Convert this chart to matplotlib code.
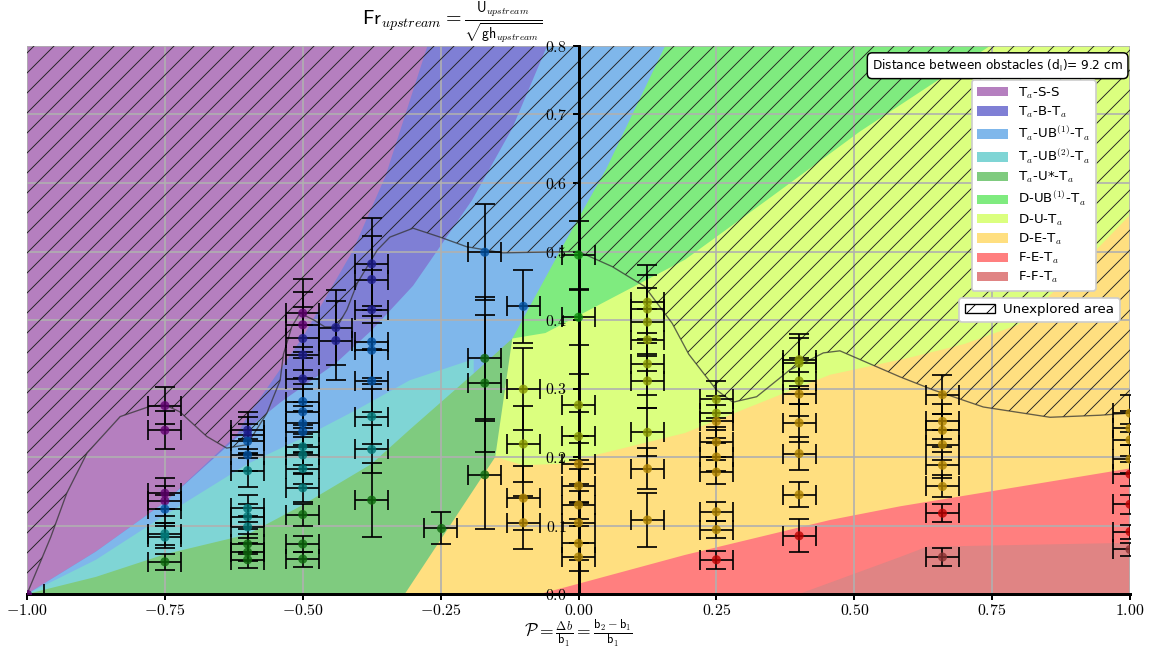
import numpy as np
import matplotlib.pyplot as plt
from matplotlib.patches import Patch
from matplotlib.ticker import FuncFormatter

plt.rcParams['mathtext.fontset'] = 'cm'
plt.rcParams['font.family'] = ['DejaVu Sans']
plt.rcParams['hatch.linewidth'] = 0.55
plt.rcParams['hatch.color'] = '#222222'

# ----------------------------
# flow regimes
# ----------------------------
regimes = ['T$_a$-S-S', 'T$_a$-B-T$_a$', 'T$_a$-UB$^{(1)}$-T$_a$', 'T$_a$-UB$^{(2)}$-T$_a$',
           'T$_a$-U*-T$_a$', 'D-UB$^{(1)}$-T$_a$', 'D-U-T$_a$', 'D-E-T$_a$', 'F-E-T$_a$', 'F-F-T$_a$']
fill_colors = ['#b57fbf', '#7f7fd5', '#7fb7eb', '#7fd5d5', '#7fcb7f',
               '#7feb7f', '#dbff7f', '#ffdf80', '#ff7f7f', '#e08484']
marker_colors = ['#600070', '#1c1c8c', '#0050a0', '#007878', '#0c680c',
                 '#0c900c', '#8a9a00', '#b08400', '#c00000', '#8a3030']

# ----------------------------
# regime boundaries (P, Fr): each curve leaves the previous regime on its upper-left side
# ----------------------------
b1_P = [-1.0, -0.875, -0.75, -0.62, -0.6, -0.5, -0.41, -0.35, -0.274, -0.26]
b1_Fr = [0.0, 0.062, 0.134, 0.232, 0.26, 0.375, 0.5, 0.61, 0.8, 0.83]
b2_P = [-1.0, -0.875, -0.75, -0.62, -0.54, -0.44, -0.375, -0.3, -0.193, -0.12, -0.057, -0.04]
b2_Fr = [0.0, 0.062, 0.134, 0.228, 0.28, 0.337, 0.385, 0.45, 0.575, 0.68, 0.8, 0.83]
b3_P = [-1.0, -0.875, -0.75, -0.6, -0.5, -0.4, -0.306, -0.19]
b3_Fr = [0.0, 0.05, 0.115, 0.19, 0.228, 0.27, 0.312, 0.343]
b4_P = [-1.0, -0.875, -0.75, -0.6, -0.5, -0.375, -0.306, -0.19, -0.12]
b4_Fr = [0.0, 0.025, 0.058, 0.087, 0.13, 0.19, 0.24, 0.322, 0.373]
b5_P = [-0.12, -0.034, 0.05, 0.157, 0.175]
b5_Fr = [0.373, 0.50, 0.62, 0.8, 0.83]
b6_P = [-0.151, -0.12, -0.06, 0.193, 0.35, 0.51, 0.746, 0.8]
b6_Fr = [0.2, 0.373, 0.381, 0.488, 0.58, 0.675, 0.8, 0.83]
b7_P = [-0.33, -0.315, -0.151, -0.1, -0.034, 0.193, 0.456, 0.6, 0.7, 0.797, 0.9, 1.02]
b7_Fr = [-0.02, 0.0, 0.2, 0.188, 0.19, 0.235, 0.32, 0.345, 0.365, 0.393, 0.47, 0.57]
b8_P = [-0.09, -0.07, 0.0, 0.193, 0.456, 0.583, 1.02]
b8_Fr = [-0.01, 0.0, 0.015, 0.057, 0.108, 0.128, 0.186]
b9_P = [0.38, 0.40, 0.583, 0.632, 1.02]
b9_Fr = [-0.01, 0.0, 0.054, 0.069, 0.075]

# limit of the explored area
lim_P = [-1.0, -0.957, -0.928, -0.891, -0.831, -0.777, -0.75, -0.723, -0.674, -0.638, -0.601,
         -0.565, -0.541, -0.535, -0.52, -0.505, -0.48, -0.46, -0.438, -0.42, -0.401, -0.365,
         -0.342, -0.3, -0.251, -0.203, -0.137, 0.0, 0.061, 0.12, 0.17, 0.2, 0.25, 0.28, 0.323,
         0.383, 0.444, 0.474, 0.583, 0.643, 0.734, 0.855, 0.946, 1.0]
lim_Fr = [0.0, 0.083, 0.147, 0.206, 0.259, 0.274, 0.276, 0.266, 0.23, 0.213, 0.218,
          0.264, 0.312, 0.35, 0.39, 0.41, 0.40, 0.39, 0.39, 0.415, 0.454, 0.502,
          0.521, 0.534, 0.521, 0.507, 0.498, 0.5, 0.478, 0.449, 0.395, 0.35, 0.298, 0.28, 0.288,
          0.327, 0.352, 0.355, 0.317, 0.298, 0.273, 0.258, 0.261, 0.264]

# ----------------------------
# experiments: one entry per obstacle configuration
# ----------------------------
exp_P = [-1.0, -0.75, -0.6, -0.5, -0.44, -0.375, -0.25, -0.17, -0.1, 0.0, 0.125, 0.25, 0.4, 0.66, 1.0]
exp_Fr = [
    [0.0],
    [0.275, 0.239, 0.147, 0.136, 0.124, 0.088, 0.083, 0.047],
    [0.239, 0.232, 0.223, 0.203, 0.180, 0.125, 0.113, 0.098, 0.073, 0.061, 0.050],
    [0.410, 0.393, 0.373, 0.349, 0.314, 0.281, 0.266, 0.249, 0.237, 0.215, 0.203, 0.183,
     0.155, 0.116, 0.073, 0.051],
    [0.389, 0.370],
    [0.482, 0.459, 0.415, 0.368, 0.356, 0.311, 0.259, 0.211, 0.137],
    [0.096],
    [0.499, 0.344, 0.308, 0.174],
    [0.420, 0.299, 0.219, 0.140, 0.104],
    [0.495, 0.404, 0.276, 0.230, 0.190, 0.158, 0.130, 0.104, 0.074, 0.054],
    [0.426, 0.416, 0.397, 0.371, 0.336, 0.311, 0.236, 0.183, 0.108],
    [0.284, 0.264, 0.252, 0.222, 0.200, 0.178, 0.120, 0.094, 0.050],
    [0.342, 0.337, 0.311, 0.292, 0.250, 0.205, 0.145, 0.085],
    [0.291, 0.252, 0.239, 0.218, 0.188, 0.157, 0.118, 0.054],
    [0.264, 0.242, 0.225, 0.197, 0.175, 0.131, 0.091, 0.065],
]
exp_err = [
    [0.0],
    [0.027, 0.028, 0.023, 0.022, 0.020, 0.016, 0.016, 0.012],
    [0.027, 0.026, 0.025, 0.024, 0.024, 0.020, 0.018, 0.016, 0.014, 0.013, 0.012],
    [0.050, 0.048, 0.046, 0.043, 0.039, 0.035, 0.033, 0.031, 0.030, 0.027, 0.026, 0.023,
     0.020, 0.016, 0.012, 0.011],
    [0.055, 0.058],
    [0.067, 0.064, 0.058, 0.052, 0.050, 0.045, 0.040, 0.035, 0.054],
    [0.023],
    [0.070, 0.089, 0.100, 0.079],
    [0.053, 0.060, 0.055, 0.047, 0.039],
    [0.050, 0.040, 0.045, 0.035, 0.030, 0.025, 0.020, 0.030, 0.025, 0.020],
    [0.054, 0.050, 0.050, 0.045, 0.045, 0.040, 0.035, 0.030, 0.039],
    [0.027, 0.025, 0.024, 0.022, 0.020, 0.018, 0.014, 0.012, 0.013],
    [0.038, 0.037, 0.034, 0.032, 0.028, 0.024, 0.018, 0.024],
    [0.028, 0.025, 0.024, 0.022, 0.019, 0.016, 0.013, 0.013],
    [0.027, 0.025, 0.023, 0.020, 0.018, 0.014, 0.010, 0.010],
]
exp_regime = [
    [0],
    [0, 0, 0, 0, 2, 3, 3, 4],
    [1, 1, 2, 2, 3, 3, 3, 3, 4, 4, 4],
    [0, 0, 1, 1, 1, 2, 2, 2, 2, 3, 3, 3, 3, 4, 4, 4],
    [1, 1],
    [1, 1, 1, 2, 2, 2, 3, 3, 4],
    [4],
    [2, 4, 4, 4],
    [2, 6, 6, 7, 7],
    [5, 5, 6, 6, 7, 7, 7, 7, 7, 7],
    [6, 6, 6, 6, 6, 6, 6, 7, 7],
    [6, 6, 7, 7, 7, 7, 7, 7, 8],
    [6, 6, 6, 7, 7, 7, 7, 8],
    [7, 7, 7, 7, 7, 7, 8, 9],
    [7, 7, 7, 7, 8, 8, 8, 9],
]
P_err = 0.03

FR_MAX = 0.8


def region_right_of(P, Fr):
    # polygon covering everything to the lower right of a boundary curve
    P = list(P)
    Fr = list(Fr)
    if Fr[-1] >= FR_MAX or P[-1] >= 1.0:
        P += [1.2, 1.2]
        Fr += [Fr[-1], -0.1]
    else:
        P += [P[-1]]
        Fr += [-0.1]
    P += [P[0]]
    Fr += [-0.1]
    return P, Fr


fig = plt.figure(figsize=(1152 / 120, 649 / 120), dpi=120)
ax = fig.add_axes([27 / 1152, 55 / 649, 1103 / 1152, 548 / 649])

ax.set_facecolor(fill_colors[0])
boundaries = [(b1_P, b1_Fr), (b2_P, b2_Fr), (b3_P, b3_Fr), (b4_P, b4_Fr), (b5_P, b5_Fr),
              (b6_P, b6_Fr), (b7_P, b7_Fr), (b8_P, b8_Fr), (b9_P, b9_Fr)]
for k, (bp, bf) in enumerate(boundaries):
    xp, yp = region_right_of(bp, bf)
    ax.fill(xp, yp, color=fill_colors[k + 1], linewidth=0, zorder=1)

# unexplored area
ax.fill_between(lim_P, lim_Fr, FR_MAX, facecolor='none', edgecolor='#222222', hatch='//',
                linewidth=0, zorder=2)
ax.plot(lim_P, lim_Fr, color='#333333', linewidth=0.8, alpha=0.75, zorder=2)

# experiments
for p, fr, err, reg in zip(exp_P, exp_Fr, exp_err, exp_regime):
    xs = [p] * len(fr)
    ax.errorbar(xs, fr, yerr=err, xerr=P_err, fmt='none', ecolor='k', elinewidth=1.2,
                capsize=6, capthick=1.2, alpha=0.85, zorder=5)
    ax.scatter(xs, fr, s=30, c=[marker_colors[r] for r in reg], alpha=0.8, zorder=6, linewidths=0)

ax.set_xlim(-1, 1)
ax.set_ylim(0, FR_MAX)
ax.set_xticks(np.arange(-1, 1.01, 0.25))
ax.set_yticks(np.arange(0, 0.81, 0.1))
ax.xaxis.set_major_formatter(FuncFormatter(lambda v, _: f'${v:.2f}$'))
ax.yaxis.set_major_formatter(FuncFormatter(lambda v, _: f'${v:.1f}$'))
ax.tick_params(labelsize=9.5, width=1.2)
ax.tick_params(axis='x', pad=2)
ax.grid(color='#b0b0b0', linewidth=1)

ax.spines['left'].set_position('zero')
ax.spines['left'].set_linewidth(1.8)
ax.spines['bottom'].set_linewidth(1.8)
ax.spines['top'].set_visible(False)
ax.spines['right'].set_visible(False)

fig.text(452 / 1152, 1 - 23 / 649,
         r'$\mathsf{Fr}_{upstream} = \frac{\mathsf{U}_{upstream}}{\sqrt{\mathsf{gh}_{upstream}}}$',
         ha='center', va='center', fontsize=12)
fig.text(578 / 1152, 1 - 633 / 649,
         r'$\mathcal{P} = \frac{\Delta b}{\mathsf{b}_1} = \frac{\mathsf{b}_2 - \mathsf{b}_1}{\mathsf{b}_1}$',
         ha='center', va='center', fontsize=10.5)

ax.text(0.88, 0.964, r'Distance between obstacles (d$_\mathsf{l}$)= 9.2 cm', transform=ax.transAxes,
        ha='center', va='center', fontsize=7.3, zorder=10,
        bbox=dict(boxstyle='round,pad=0.4', facecolor='white', edgecolor='black', linewidth=0.9))

handles = [Patch(facecolor=c, label=l) for c, l in zip(fill_colors, regimes)]
leg = ax.legend(handles=handles, loc='upper right', bbox_to_anchor=(0.969, 0.938), borderaxespad=0,
                fontsize=8, labelspacing=0.3, framealpha=1, handlelength=2.3)
leg.set_zorder(10)
ax.add_artist(leg)
leg2 = ax.legend(handles=[Patch(facecolor='white', edgecolor='k', hatch='//', linewidth=0.8,
                                label='Unexplored area')],
                 loc='upper right', bbox_to_anchor=(0.9905, 0.540), borderaxespad=0,
                 fontsize=8, framealpha=1, handlelength=2.3, handletextpad=0.6)
leg2.set_zorder(10)

fig.savefig('out.png', dpi=120)
